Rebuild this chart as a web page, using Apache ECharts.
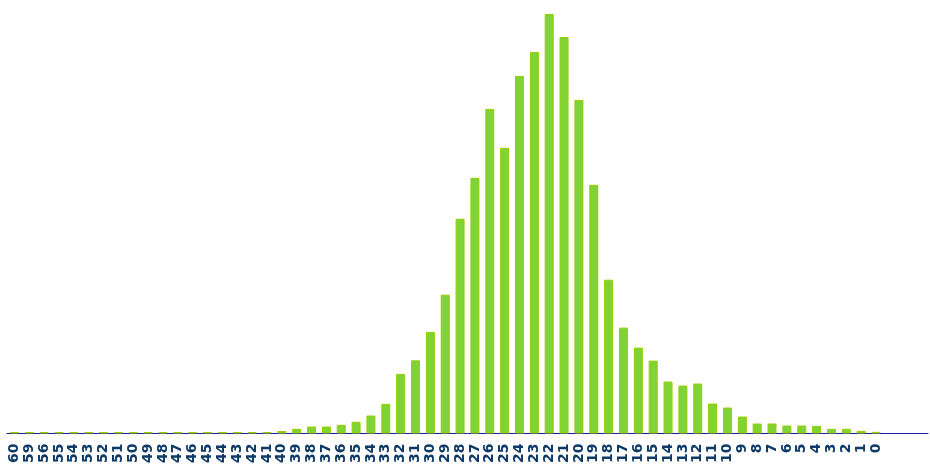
<!DOCTYPE html>
<html>
<head>
<meta charset="utf-8">
<script src="https://cdn.jsdelivr.net/npm/echarts@6/dist/echarts.min.js"></script>
<style>html,body{margin:0;padding:0;background:#fff}#c{width:930px;height:466px}</style>
</head>
<body>
<div id="c"></div>
<script>
var categories = ['60','59','56','55','54','53','52','51','50','49','48','47','46','45','44','43','42','41','40','39','38','37','36','35','34','33','32','31','30','29','28','27','26','25','24','23','22','21','20','19','18','17','16','15','14','13','12','11','10','9','8','7','6','5','4','3','2','1','0','','',''];
var values = [1.5,1.5,1.5,1.5,1.5,1.5,1.5,1.5,1.5,1.5,1.5,1.5,1.5,1.5,1.5,1.5,1.5,1.5,2.5,4.7,7,7,8.7,11.7,18,29.7,59.7,73.3,101.7,139,215,256,325,286,358,382,420,397,334,249,154,106,86,73,52,48,50,30,26,17,10,10,8,8,7.7,4.7,4.7,2.7,1.7,'-','-','-'];
var chart = echarts.init(document.getElementById('c'));
chart.setOption({
  animation: false,
  grid: {left: 7, right: 2, top: 14, bottom: 32, containLabel: false},
  xAxis: {
    type: 'category', data: categories,
    axisLine: {lineStyle: {color: '#1c1cae', width: 1}},
    axisTick: {show: false},
    axisLabel: {interval: 0, rotate: 90, margin: 10, color: '#0e3a68', fontWeight: 'bold', fontSize: 14, fontFamily: 'DejaVu Sans'}
  },
  yAxis: {type: 'value', min: 0, max: 420, show: false, splitLine: {show: false}},
  series: [{
    type: 'bar', data: values, barWidth: 9,
    itemStyle: {color: '#7ed434', borderColor: '#9acc00', borderWidth: 1}
  }]
});
</script>
</body>
</html>
